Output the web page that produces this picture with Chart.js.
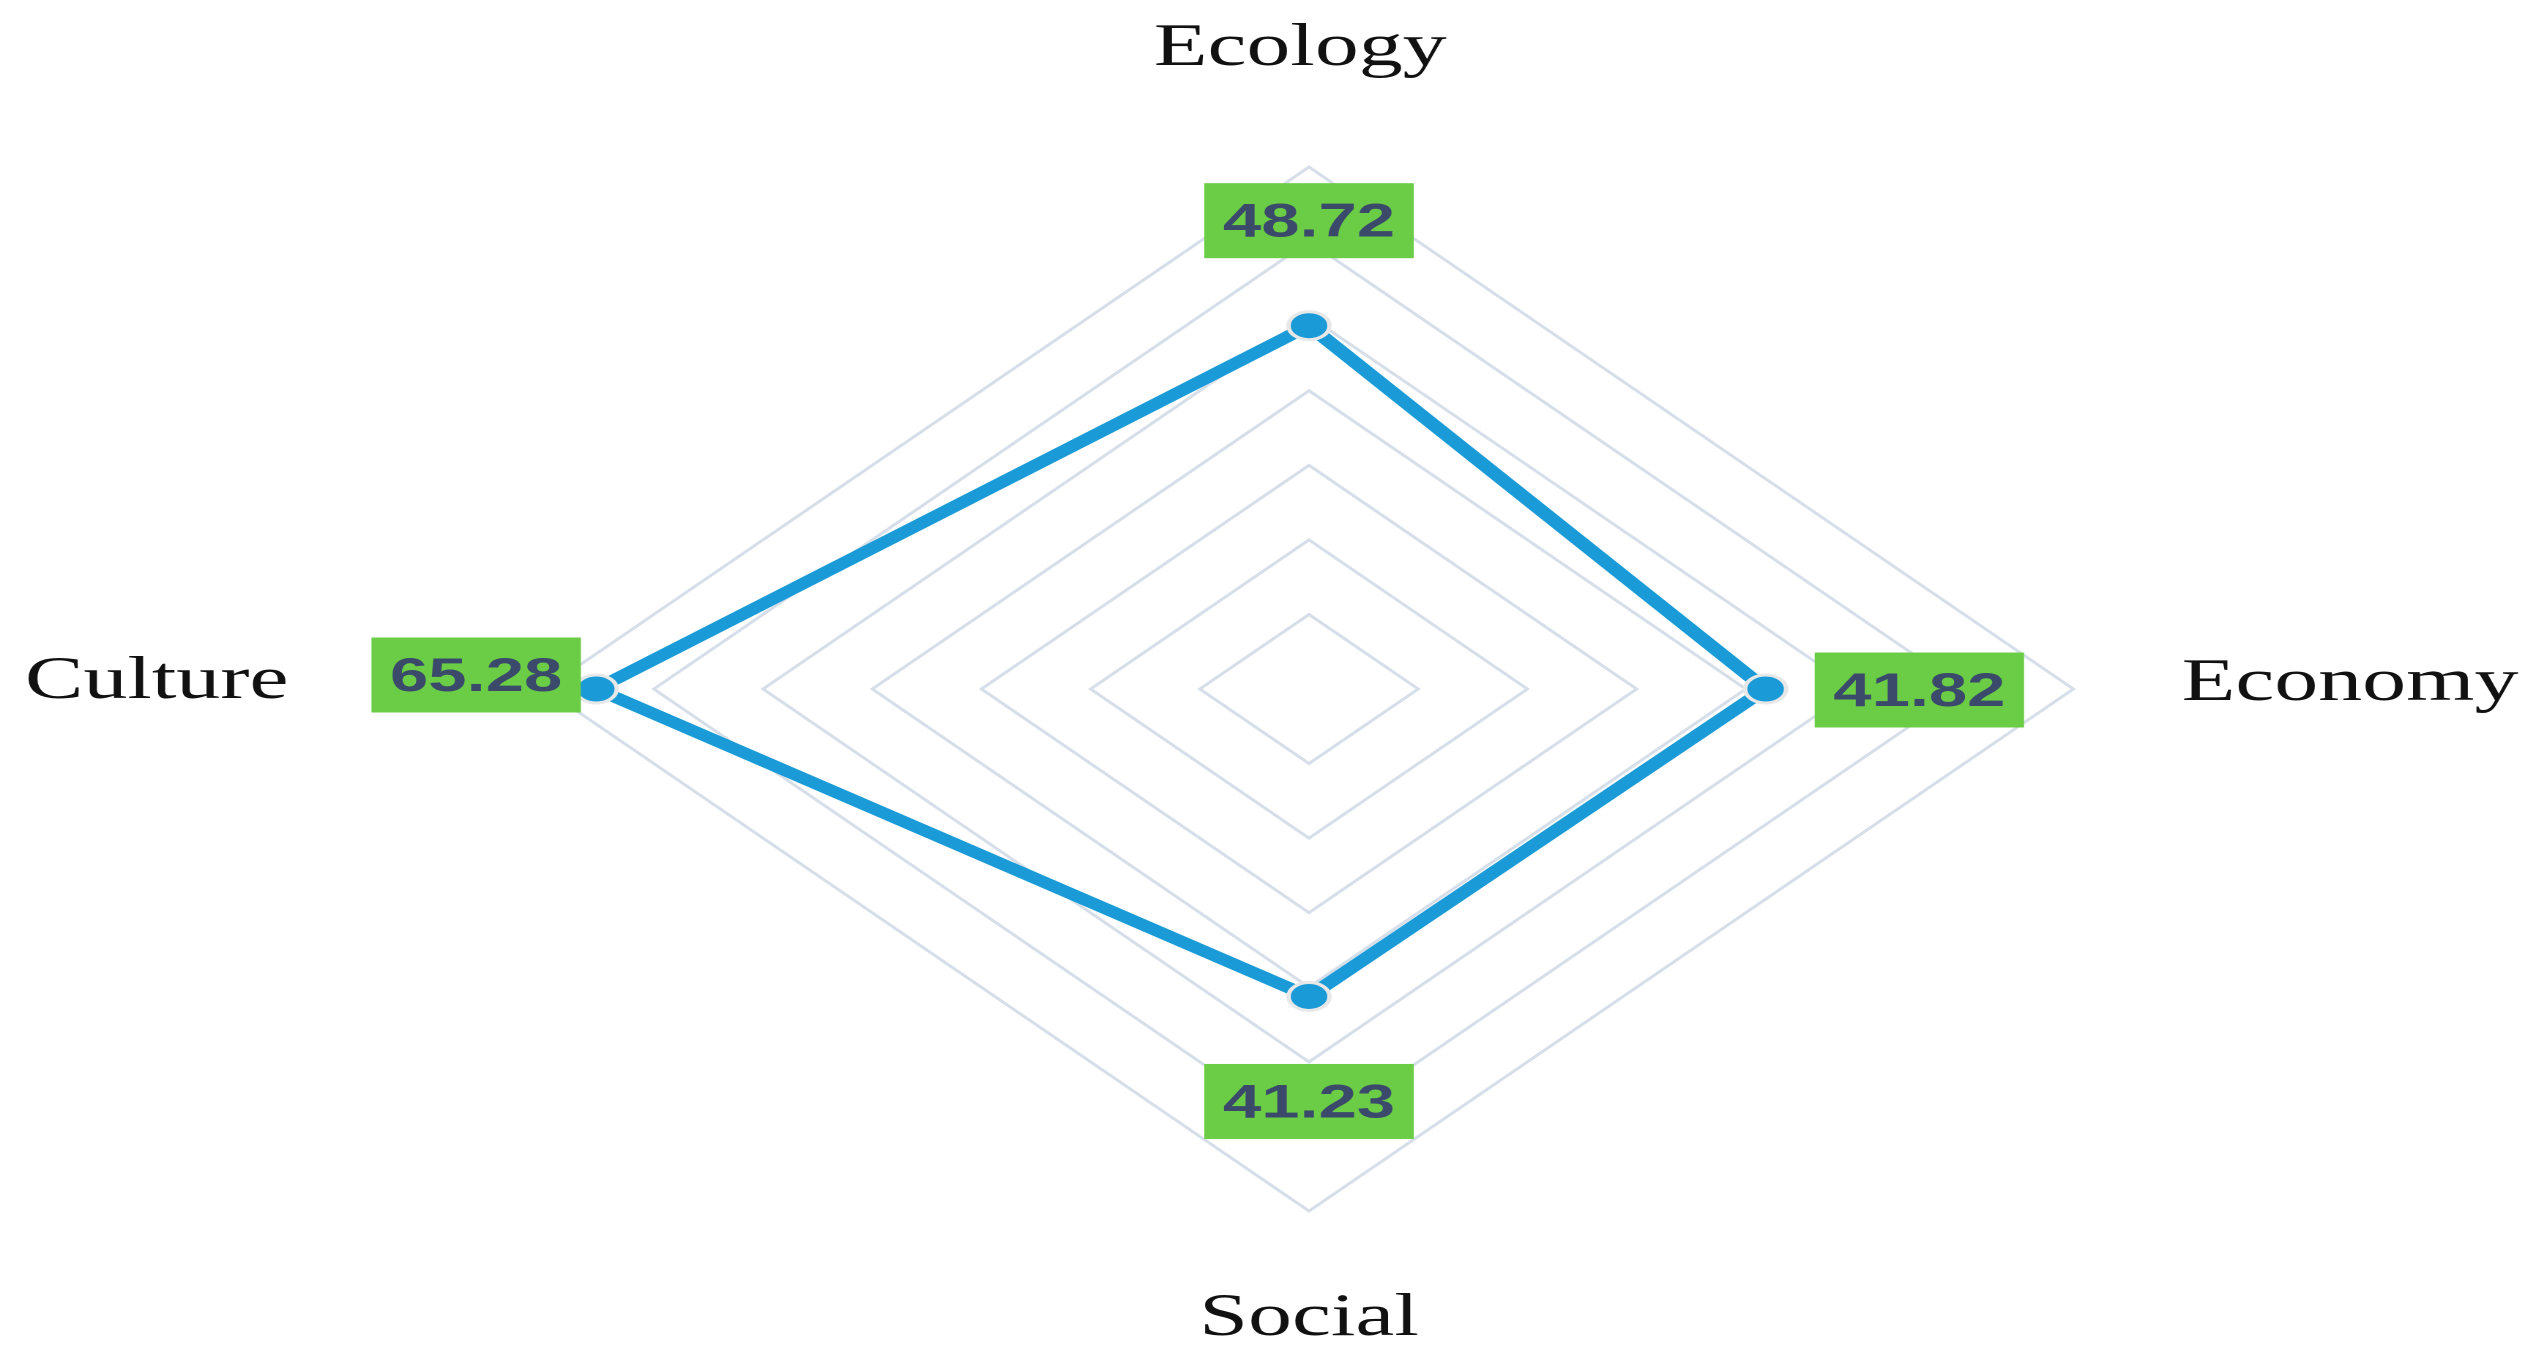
<!DOCTYPE html>
<html>
<head>
<meta charset="utf-8">
<title>Radar</title>
<script src="https://cdn.jsdelivr.net/npm/chart.js@4/dist/chart.umd.min.js"></script>
<style>
  html, body { margin: 0; padding: 0; background: #fff; overflow: hidden; }
  /* the reference is stretched sideways, so the whole drawing is too */
  #caixa {
    position: relative;
    width: 1734px;
    height: 1361px;
    transform: scaleX(1.4642);
    transform-origin: 0 0;
  }
</style>
</head>
<body>
<div id="caixa"><canvas id="grafico"></canvas></div>
<script>
const categorias = ["Ecology", "Economy", "Social", "Culture"];
const valores = [48.72, 41.82, 41.23, 65.28];
const escalaMax = 70;
const escalaPasso = 10;

// where each axis name and each value box sits, relative to its point
const estiloRotulo = [
  { pad: 102, dx: -6, dy: 0, align: "center" },
  { pad: 74, dx: 0, dy: 11, align: "left" },
  { pad: 124, dx: 0, dy: 0, align: "center" },
  { pad: 175, dx: 0, dy: 9, align: "right" },
];
const deslocCaixa = [
  [0, -105],
  [105, 1],
  [0, 105],
  [-82, -14],
];

const rotulosPlugin = {
  id: "rotulos",
  afterDatasetsDraw(chart) {
    const ctx = chart.ctx;
    const r = chart.scales.r;
    const pontos = chart.getDatasetMeta(0).data;

    ctx.save();
    ctx.font = '60px "Liberation Serif"';
    ctx.fillStyle = "#111111";
    ctx.textBaseline = "alphabetic";
    categorias.forEach((nome, i) => {
      const e = estiloRotulo[i];
      const pos = r.getPointPosition(i, r.drawingArea + e.pad);
      ctx.textAlign = e.align;
      ctx.fillText(nome, pos.x + e.dx, pos.y + e.dy);
    });

    const w = 143, h = 75;
    ctx.font = 'bold 47px "Liberation Sans"';
    ctx.textAlign = "center";
    ctx.textBaseline = "middle";
    pontos.forEach((p, i) => {
      const cx = p.x + deslocCaixa[i][0];
      const cy = p.y + deslocCaixa[i][1];
      ctx.fillStyle = "#6acd45";
      ctx.fillRect(cx - w / 2, cy - h / 2, w, h);
      ctx.fillStyle = "#3b4a6b";
      ctx.fillText(valores[i].toFixed(2), cx, cy + 3);
    });
    ctx.restore();
  },
};

const ctx = document.getElementById("grafico").getContext("2d");

const grafico = new Chart(ctx, {
  type: "radar",
  data: {
    labels: categorias,
    datasets: [
      {
        label: "Index",
        data: valores,
        borderColor: "#1a9bd8",
        borderWidth: 11,
        fill: false,
        pointRadius: 14,
        pointBorderWidth: 3,
        pointBackgroundColor: "#1a9bd8",
        pointBorderColor: "#e8e8e8",
        clip: false,
      },
    ],
  },
  options: {
    responsive: true,
    maintainAspectRatio: false,
    animation: false,
    devicePixelRatio: 2,
    layout: {
      padding: { top: 167, bottom: 150, left: 372, right: 318 },
    },
    plugins: {
      legend: { display: false },
      tooltip: { enabled: false },
    },
    scales: {
      r: {
        min: 0,
        max: escalaMax,
        ticks: { display: false, stepSize: escalaPasso },
        grid: { color: "#d6dee9", lineWidth: 2.6 },
        angleLines: { display: false },
        pointLabels: { display: false },
      },
    },
  },
  plugins: [rotulosPlugin],
});
</script>
</body>
</html>
